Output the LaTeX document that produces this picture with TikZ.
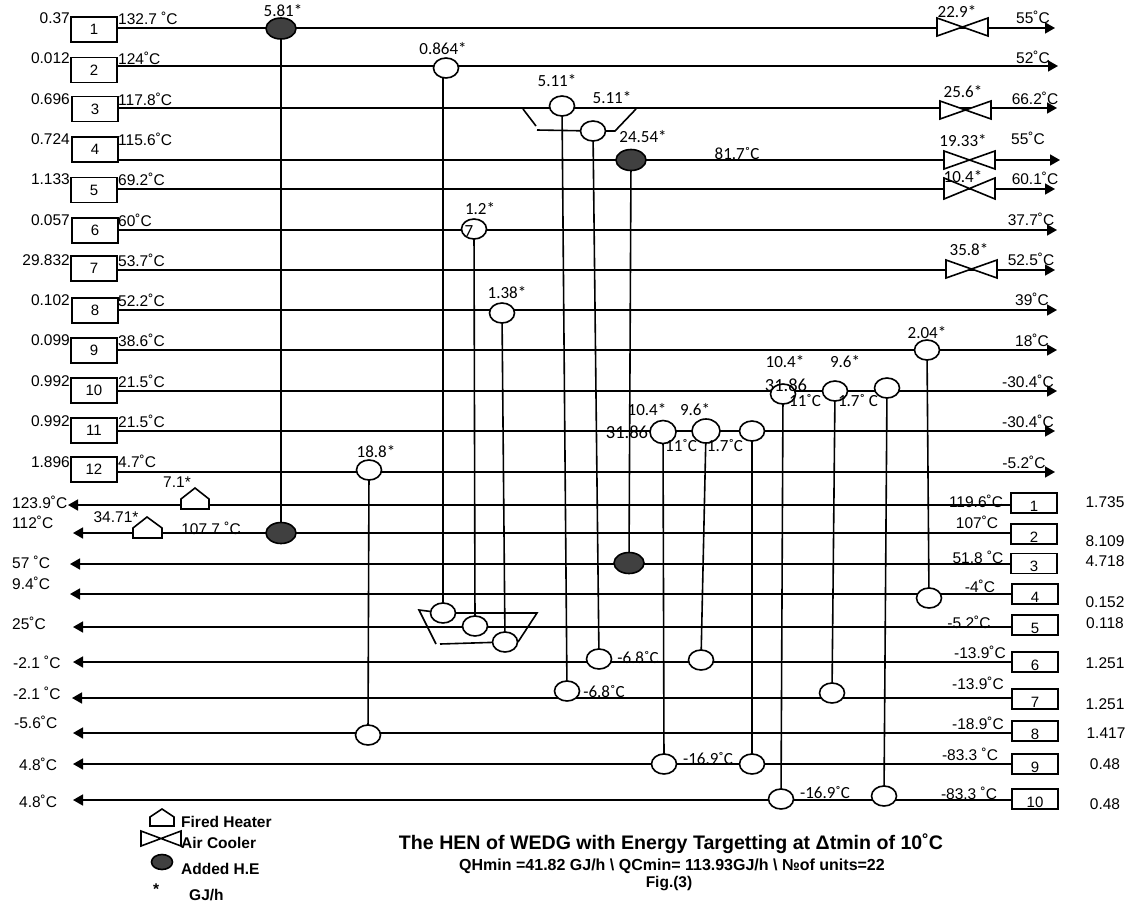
\documentclass[tikz,border=0pt]{standalone}
\usepackage{fontspec}
\setmainfont{Liberation Sans}
\newfontfamily\calfont{Carlito}
\usetikzlibrary{arrows.meta, positioning, shapes.geometric}
\definecolor{darkhx}{RGB}{64,64,64}
\tikzset{
  strm/.style={line width=1.6pt},
  strmarr/.style={line width=1.6pt, -{Triangle[length=10pt,width=11pt]}},
  hotbox/.style={draw, line width=1.6pt, fill=white, inner sep=0pt, minimum width=46pt, minimum height=25pt, text height=10pt, text depth=0pt, font=\fontsize{15}{18}\selectfont},
  coldbox/.style={draw, line width=1.6pt, fill=white, inner sep=0pt, minimum width=46pt, minimum height=20pt, text height=16pt, text depth=0pt, font=\fontsize{15}{18}\selectfont},
  hx/.style={draw, ellipse, line width=1.6pt, fill=white, inner sep=0pt, outer sep=0pt, minimum width=25pt, minimum height=20pt},
  addhx/.style={draw, ellipse, line width=1.6pt, fill=darkhx, inner sep=0pt, outer sep=0pt, minimum width=30pt, minimum height=21pt},
  unitshape/.style={draw, line width=1.6pt, fill=white},
  arial/.style={inner sep=0pt, font=\fontsize{15.5}{18}\selectfont},
  cal/.style={inner sep=0pt, font=\calfont\fontsize{17}{18}\selectfont},
  legend/.style={inner sep=0pt, anchor=west, font=\bfseries\fontsize{15.5}{16}\selectfont},
}
\begin{document}
\begin{tikzpicture}[x=1pt, y=-1pt]
  \useasboundingbox (0,0) rectangle (1134,905);
  % Hot stream boxes
  \node[hotbox] (h1) at (94,29.5) {1};
  \node[hotbox] (h2) at (94,70) {2};
  \node[hotbox] (h3) at (95,109) {3};
  \node[hotbox] (h4) at (95,149.5) {4};
  \node[hotbox] (h5) at (94,190) {5};
  \node[hotbox] (h6) at (95,230.5) {6};
  \node[hotbox] (h7) at (94,268.5) {7};
  \node[hotbox] (h8) at (95,310.5) {8};
  \node[hotbox] (h9) at (94,350.5) {9};
  \node[hotbox] (h10) at (94,390.5) {10};
  \node[hotbox] (h11) at (94,430.5) {11};
  \node[hotbox] (h12) at (94,469.5) {12};
  % Cold stream boxes
  \node[coldbox] (c1) at (1034,503) {1};
  \node[coldbox] (c2) at (1034,534) {2};
  \node[coldbox] (c3) at (1034,563.5) {3};
  \node[coldbox] (c4) at (1035,594) {4};
  \node[coldbox] (c5) at (1035,625) {5};
  \node[coldbox] (c6) at (1035,662) {6};
  \node[coldbox] (c7) at (1035,699) {7};
  \node[coldbox] (c8) at (1035,731) {8};
  \node[coldbox] (c9) at (1035,764) {9};
  \node[coldbox] (c10) at (1035,799) {10};
  % Stream ends
  \coordinate (he1) at (1055,28);
  \coordinate (he2) at (1058,66);
  \coordinate (he3) at (1057,108);
  \coordinate (he4) at (1060,160);
  \coordinate (he5) at (1055,189);
  \coordinate (he6) at (1057,230);
  \coordinate (he7) at (1055,270);
  \coordinate (he8) at (1057,310);
  \coordinate (he9) at (1057,350);
  \coordinate (he10) at (1057,391);
  \coordinate (he11) at (1055,431);
  \coordinate (he12) at (1055,472);
  \coordinate (ce1) at (68,505);
  \coordinate (ce2) at (73,533);
  \coordinate (ce3) at (70,564);
  \coordinate (ce4) at (70,594);
  \coordinate (ce5) at (73,627);
  \coordinate (ce6) at (73,662);
  \coordinate (ce7) at (72,698);
  \coordinate (ce8) at (73,733);
  \coordinate (ce9) at (73,764);
  \coordinate (ce10) at (73,800);
  % Hot streams
  \draw[strmarr] (h1.east |- he1) -- (he1);
  \draw[strmarr] (h2.east |- he2) -- (he2);
  \draw[strmarr] (h3.east |- he3) -- (he3);
  \draw[strmarr] (h4.east |- he4) -- (he4);
  \draw[strmarr] (h5.east |- he5) -- (he5);
  \draw[strmarr] (h6.east |- he6) -- (he6);
  \draw[strmarr] (h7.east |- he7) -- (he7);
  \draw[strmarr] (h8.east |- he8) -- (he8);
  \draw[strmarr] (h9.east |- he9) -- (he9);
  \draw[strmarr] (h10.east |- he10) -- (he10);
  \draw[strmarr] (h11.east |- he11) -- (he11);
  \draw[strmarr] (h12.east |- he12) -- (he12);
  % Cold streams
  \draw[strmarr] (c1.west |- ce1) -- (ce1);
  \draw[strmarr] (c2.west |- ce2) -- (ce2);
  \draw[strmarr] (c3.west |- ce3) -- (ce3);
  \draw[strmarr] (c4.west |- ce4) -- (ce4);
  \draw[strmarr] (c5.west |- ce5) -- (ce5);
  \draw[strmarr] (c6.west |- ce6) -- (ce6);
  \draw[strmarr] (c7.west |- ce7) -- (ce7);
  \draw[strmarr] (c8.west |- ce8) -- (ce8);
  \draw[strmarr] (c9.west |- ce9) -- (ce9);
  \draw[strmarr] (c10.west |- ce10) -- (ce10);
  % Fired heaters
  \draw[unitshape] (181,509) -- (181,499) -- (195,488) -- (209,499) -- (209,509) -- cycle;
  \draw[unitshape] (133,538) -- (133,528) -- (147,517) -- (162,528) -- (162,538) -- cycle;
  % Air coolers
  \draw[unitshape] (937,18) -- (988,36) -- (988,18) -- (937,36) -- cycle;
  \draw[unitshape] (940,101) -- (991,119) -- (991,101) -- (940,119) -- cycle;
  \draw[unitshape] (944,151) -- (995,169) -- (995,151) -- (944,169) -- cycle;
  \draw[unitshape] (944,178) -- (995,199) -- (995,178) -- (944,199) -- cycle;
  \draw[unitshape] (946,260) -- (997,278) -- (997,260) -- (946,278) -- cycle;
  % Exchangers on hot streams
  \node[addhx] (m1) at (281,28.5) {};
  \node[hx] (m2) at (446,68) {};
  \node[hx] (m3) at (562,106) {};
  \node[hx] (m4) at (593,131) {};
  \node[addhx] (m5) at (631,160) {};
  \node[hx] (m6) at (474,229) {};
  \node[hx] (m7) at (502,313) {};
  \node[hx] (m8) at (369,470) {};
  \node[hx] (m9) at (927,350) {};
  \node[hx, minimum width=26pt, minimum height=23pt] (m10) at (663,432) {};
  \node[hx, minimum width=28pt, minimum height=24pt] (m11) at (706,431) {};
  \node[hx] (m12) at (752,431) {};
  \node[hx] (m13) at (783,394) {};
  \node[hx] (m14) at (835,391) {};
  \node[hx] (m15) at (887,388) {};
  % Exchangers on cold streams
  \node[addhx] (m1b) at (281,533) {};
  \node[hx] (m2b) at (443,613) {};
  \node[hx] (m3b) at (567,691) {};
  \node[hx] (m4b) at (599,659) {};
  \node[addhx] (m5b) at (629,563) {};
  \node[hx] (m6b) at (475,626) {};
  \node[hx] (m7b) at (505,642) {};
  \node[hx] (m8b) at (368,735) {};
  \node[hx] (m9b) at (929,598) {};
  \node[hx] (m10b) at (664,764) {};
  \node[hx] (m11b) at (701,660) {};
  \node[hx] (m12b) at (752,764) {};
  \node[hx] (m13b) at (781,799) {};
  \node[hx] (m14b) at (832,693) {};
  \node[hx] (m15b) at (884,796) {};
  % Matches
  \coordinate (m2s) at (443,78);
  \draw[strm] (m1) -- (m1b);
  \draw[strm] (m2s) -- (m2b);
  \draw[strm] (m3) -- (m3b);
  \draw[strm] (m4) -- (m4b);
  \draw[strm] (m5) -- (m5b);
  \draw[strm] (m6) -- (m6b);
  \draw[strm] (m7) -- (m7b);
  \draw[strm] (m8) -- (m8b);
  \draw[strm] (m9) -- (m9b);
  \draw[strm] (m10) -- (m10b);
  \draw[strm] (m11) -- (m11b);
  \draw[strm] (m12) -- (m12b);
  \draw[strm] (m13) -- (m13b);
  \draw[strm] (m14) -- (m14b);
  \draw[strm] (m15) -- (m15b);
  % Stream splits
  \coordinate (sp1) at (523,109);
  \coordinate (sp2) at (536,126);
  \coordinate (sp3) at (537,130);
  \coordinate (sp4) at (615,131);
  \coordinate (sp5) at (636,109);
  \draw[strm] (sp1) -- (sp2);
  \draw[strm] (sp3) -- (m4);
  \draw[strm] (m4) -- (sp4) -- (sp5);
  \coordinate (sp6) at (419,610);
  \coordinate (sp7) at (436,644);
  \coordinate (sp8) at (440,644);
  \coordinate (sp9) at (537,613);
  \coordinate (sp10) at (518,642);
  \draw[strm] (m2b) -- (sp6) -- (sp7);
  \draw[strm] (sp8) -- (m7b);
  \draw[strm] (m2b) -- (sp9) -- (sp10);
  % Hot flow labels
  \node[arial, anchor=east] (fh1) at (70,18) {0.37};
  \node[arial, anchor=east] (fh2) at (70,58) {0.012};
  \node[arial, anchor=east] (fh3) at (70,99) {0.696};
  \node[arial, anchor=east] (fh4) at (70,139) {0.724};
  \node[arial, anchor=east] (fh5) at (70,179) {1.133};
  \node[arial, anchor=east] (fh6) at (70,220) {0.057};
  \node[arial, anchor=east] (fh7) at (70,260) {29.832};
  \node[arial, anchor=east] (fh8) at (70,300) {0.102};
  \node[arial, anchor=east] (fh9) at (70,340) {0.099};
  \node[arial, anchor=east] (fh10) at (70,381) {0.992};
  \node[arial, anchor=east] (fh11) at (70,421) {0.992};
  \node[arial, anchor=east] (fh12) at (70,462) {1.896};
  % Hot inlet temperatures
  \node[arial, anchor=west] (th1) at (118,18) {132.7 ˚C};
  \node[arial, anchor=west] (th2) at (118,58) {124˚C};
  \node[arial, anchor=west] (th3) at (118,99) {117.8˚C};
  \node[arial, anchor=west] (th4) at (118,139) {115.6˚C};
  \node[arial, anchor=west] (th5) at (118,179) {69.2˚C};
  \node[arial, anchor=west] (th6) at (118,220) {60˚C};
  \node[arial, anchor=west] (th7) at (118,260) {53.7˚C};
  \node[arial, anchor=west] (th8) at (118,300) {52.2˚C};
  \node[arial, anchor=west] (th9) at (118,340) {38.6˚C};
  \node[arial, anchor=west] (th10) at (118,381) {21.5˚C};
  \node[arial, anchor=west] (th11) at (118,421) {21.5˚C};
  \node[arial, anchor=west] (th12) at (118,461) {4.7˚C};
  % Hot outlet temperatures
  \node[arial] (oh1) at (1033,17) {55˚C};
  \node[arial] (oh2) at (1033,57) {52˚C};
  \node[arial] (oh3) at (1035,98) {66.2˚C};
  \node[arial] (oh4) at (1028,138) {55˚C};
  \node[arial] (oh5) at (1035,178) {60.1˚C};
  \node[arial] (oh6) at (1031,219) {37.7˚C};
  \node[arial] (oh7) at (1031,259) {52.5˚C};
  \node[arial] (oh8) at (1032,299) {39˚C};
  \node[arial] (oh9) at (1032,340) {18˚C};
  \node[arial] (oh10) at (1028,381) {-30.4˚C};
  \node[arial] (oh11) at (1028,421) {-30.4˚C};
  \node[arial] (oh12) at (1024,462) {-5.2˚C};
  % Cold flow labels
  \node[arial] (fc1) at (1105,502) {1.735};
  \node[arial] (fc2) at (1105,541) {8.109};
  \node[arial] (fc3) at (1105,561) {4.718};
  \node[arial] (fc4) at (1105,602) {0.152};
  \node[arial] (fc5) at (1105,623) {0.118};
  \node[arial] (fc6) at (1105,663) {1.251};
  \node[arial] (fc7) at (1105,704) {1.251};
  \node[arial] (fc8) at (1106,733) {1.417};
  \node[arial] (fc9) at (1105,764) {0.48};
  \node[arial] (fc10) at (1105,804) {0.48};
  % Cold inlet temperatures
  \node[arial] (tc1) at (976,501) {119.6˚C};
  \node[arial] (tc2) at (977,522) {107˚C};
  \node[arial] (tc3) at (978,557) {51.8 ˚C};
  \node[arial] (tc4) at (980,586) {-4˚C};
  \node[arial] (tc5) at (969,622) {-5.2˚C};
  \node[arial] (tc6) at (980,652) {-13.9˚C};
  \node[arial] (tc7) at (978,683) {-13.9˚C};
  \node[arial] (tc8) at (978,723) {-18.9˚C};
  \node[arial] (tc9) at (970,754) {-83.3 ˚C};
  \node[arial] (tc10) at (969,793) {-83.3 ˚C};
  % Cold outlet temperatures
  \node[arial, anchor=west] (oc1) at (12,502) {123.9˚C};
  \node[arial, anchor=west] (oc2) at (12,522) {112˚C};
  \node[arial, anchor=west] (oc3) at (12,562) {57 ˚C};
  \node[arial, anchor=west] (oc4) at (12,583) {9.4˚C};
  \node[arial, anchor=west] (oc5) at (12,623) {25˚C};
  \node[arial, anchor=west] (oc6) at (13,662) {-2.1 ˚C};
  \node[arial, anchor=west] (oc7) at (13,693) {-2.1 ˚C};
  \node[arial, anchor=west] (oc8) at (14,722) {-5.6˚C};
  \node[arial, anchor=west] (oc9) at (19,764) {4.8˚C};
  \node[arial, anchor=west] (oc10) at (19,801) {4.8˚C};
  % Duties
  \node[cal] (q1) at (283,11) {5.81*};
  \node[cal] (q2) at (443,49) {0.864*};
  \node[cal] (q3) at (557,81) {5.11*};
  \node[cal] (q4) at (612,98) {5.11*};
  \node[cal] (q5) at (643,137) {24.54*};
  \node[cal] (q6) at (480,209) {1.2*};
  \node[cal] (q7) at (507,293) {1.38*};
  \node[cal] (q8) at (376,452) {18.8*};
  \node[cal] (q9) at (927,333) {2.04*};
  \node[cal] (q10) at (647,410) {10.4*};
  \node[cal] (q11) at (695,410) {9.6*};
  \node[cal] (q12) at (785,362) {10.4*};
  \node[cal] (q13) at (845,362) {9.6*};
  \node[cal] (q14) at (957,12) {22.9*};
  \node[cal] (q15) at (963,92) {25.6*};
  \node[cal] (q16) at (963,141) {19.33*};
  \node[cal] (q17) at (963,177) {10.4*};
  \node[cal] (q18) at (969,250) {35.8*};
  \node[arial] (q19) at (177,482) {7.1*};
  \node[arial] (q20) at (116,517) {34.71*};
  % Labels between exchangers
  \node[arial] (l1) at (211,528) {107.7 ˚C};
  \node[cal] (l2) at (737,154) {81.7˚C};
  \node[cal] (l3) at (469,231) {7};
  \node[cal, font=\calfont\fontsize{18.5}{18}\selectfont] (l4) at (627,432) {31.86};
  \node[cal] (l5) at (681,446) {11˚C};
  \node[cal] (l6) at (725,446) {1.7˚C};
  \node[cal, font=\calfont\fontsize{18.5}{18}\selectfont] (l7) at (786,385) {31.86};
  \node[cal] (l8) at (805,401) {11˚C};
  \node[cal] (l9) at (858,401) {1.7˚ C};
  \node[cal] (l10) at (638,658) {-6.8˚C};
  \node[cal] (l11) at (604,692) {-6.8˚C};
  \node[cal] (l12) at (708,759) {-16.9˚C};
  \node[cal] (l13) at (825,793) {-16.9˚C};
  % Legend
  \draw[unitshape] (150,826) -- (150,817) -- (162,809) -- (174,817) -- (174,826) -- cycle;
  \draw[unitshape] (141,831) -- (181,846) -- (181,831) -- (141,846) -- cycle;
  \node[addhx, minimum width=21pt, minimum height=15pt] (lg1) at (162,862) {};
  \node[legend] (lg2) at (181,822) {Fired Heater};
  \node[legend] (lg3) at (181,843) {Air Cooler};
  \node[legend] (lg4) at (181,869) {Added H.E};
  \node[legend] (lg5) at (153,889) {*};
  \node[legend] (lg6) at (189,895) {GJ/h};
  % Title
  \node[inner sep=0pt, font=\bfseries\fontsize{19.6}{22}\selectfont] (ttl) at (671,844) {The HEN of WEDG with Energy Targetting at Δtmin of 10˚C};
  \node[inner sep=0pt, font=\bfseries\fontsize{16}{18}\selectfont] (ttl2) at (672,866) {QHmin =41.82 GJ/h \textbackslash{} QCmin= 113.93GJ/h \textbackslash{} №of units=22};
  \node[inner sep=0pt, font=\bfseries\fontsize{15.5}{18}\selectfont] (ttl3) at (669,884) {Fig.(3)};
\end{tikzpicture}
\end{document}
